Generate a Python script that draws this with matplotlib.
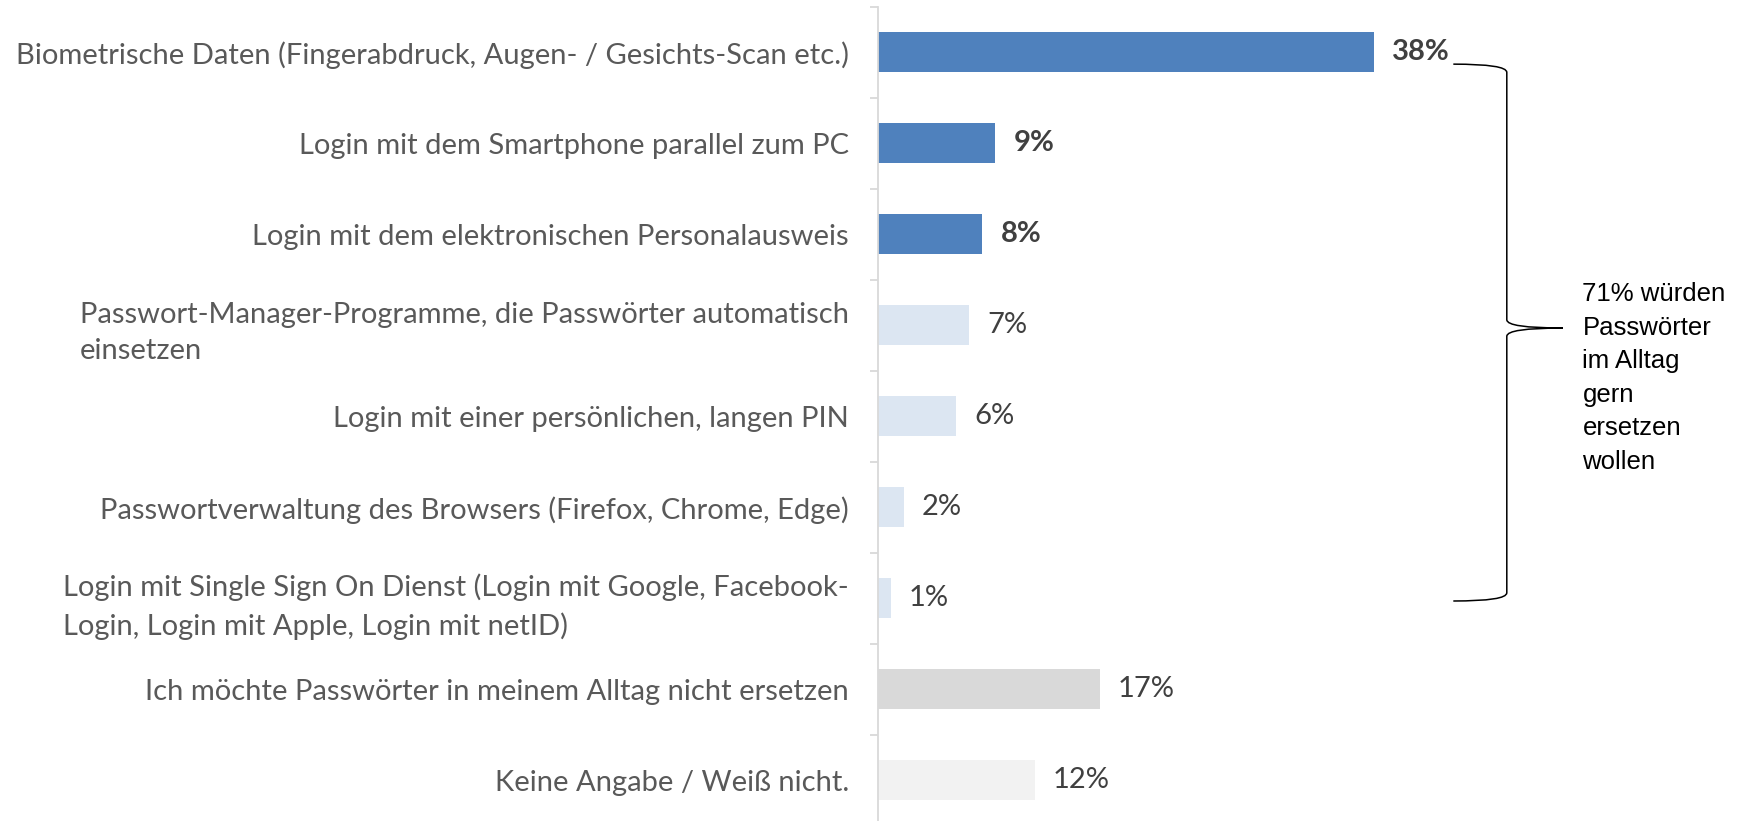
import matplotlib
matplotlib.use('Agg')
import matplotlib.pyplot as plt
from matplotlib.path import Path
from matplotlib.patches import PathPatch

# data
categories = [
    'Biometrische Daten (Fingerabdruck, Augen- / Gesichts-Scan etc.)',
    'Login mit dem Smartphone parallel zum PC',
    'Login mit dem elektronischen Personalausweis',
    'Passwort-Manager-Programme, die Passwörter automatisch\neinsetzen',
    'Login mit einer persönlichen, langen PIN',
    'Passwortverwaltung des Browsers (Firefox, Chrome, Edge)',
    'Login mit Single Sign On Dienst (Login mit Google, Facebook-\nLogin, Login mit Apple, Login mit netID)',
    'Ich möchte Passwörter in meinem Alltag nicht ersetzen',
    'Keine Angabe / Weiß nicht.',
]
values = [38, 9, 8, 7, 6, 2, 1, 17, 12]
bar_colors = ['#4F81BD', '#4F81BD', '#4F81BD',
              '#DCE6F2', '#DCE6F2', '#DCE6F2', '#DCE6F2',
              '#D9D9D9', '#F2F2F2']
bold_labels = [True, True, True, False, False, False, False, False, False]
brace_text = '71% würden\nPasswörter\nim Alltag\ngern\nersetzen\nwollen'

fig = plt.figure(figsize=(17.63, 8.21), dpi=100)
ax = fig.add_axes([0.498, -0.0058, 0.4958, 0.9975])

y = list(range(len(categories)))
ax.barh(y, values, height=0.44, color=bar_colors)
ax.set_ylim(len(categories) - 0.5, -0.5)
ax.set_xlim(0, 67)

for i, v in enumerate(values):
    ax.annotate(str(v) + '%', (v, i), xytext=(13, 0), textcoords='offset points',
                va='center', ha='left', fontsize=21, family='Lato',
                color='#404040', fontweight='bold' if bold_labels[i] else 'normal')

# axis styling
for side in ['top', 'right', 'bottom']:
    ax.spines[side].set_visible(False)
ax.spines['left'].set_color('#D9D9D9')
ax.spines['left'].set_linewidth(1.3)
ax.set_xticks([])
ax.set_yticks(y)
ax.set_yticklabels(categories, fontsize=21, family='Lato', color='#595959')
ax.set_yticks([i - 0.5 for i in range(len(categories) + 1)], minor=True)
ax.tick_params(axis='y', which='major', length=0, pad=21)
ax.tick_params(axis='y', which='minor', length=6, width=1.3, color='#D9D9D9')
for lab in ax.get_yticklabels():
    lab.set_multialignment('left')
    lab.set_linespacing(1.5)

# curly brace over the first seven answers
x0, x1, x2 = 44.1, 48.2, 52.5
yt, ym, yb = 0.13, 3.03, 6.03
dy = 0.09
verts = [
    (x0, yt), (x1, yt), (x1, yt + dy),
    (x1, ym - dy), (x1, ym), (x2, ym),
    (x1, ym), (x1, ym + dy),
    (x1, yb - dy), (x1, yb), (x0, yb),
]
codes = [
    Path.MOVETO, Path.CURVE3, Path.CURVE3,
    Path.LINETO, Path.CURVE3, Path.CURVE3,
    Path.CURVE3, Path.CURVE3,
    Path.LINETO, Path.CURVE3, Path.CURVE3,
]
ax.add_patch(PathPatch(Path(verts, codes), facecolor='none',
                       edgecolor='black', linewidth=1.1, clip_on=False))
ax.text(54.0, 3.58, brace_text, fontsize=18.5, family='Liberation Sans',
        color='black', va='center', ha='left', linespacing=1.5)

plt.savefig('out.png', dpi=100)
plt.close()
